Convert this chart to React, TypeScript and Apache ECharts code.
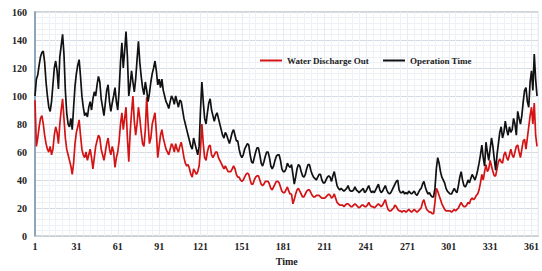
import React, { useEffect, useRef } from "react";
import * as echarts from "echarts";

const xTicks = [1, 31, 61, 91, 121, 151, 181, 211, 241, 271, 301, 331, 361];

const operationTime: number[] = [
  100, 112, 115, 122, 128, 131, 132, 124, 110, 100,
  92, 89, 96, 108, 120, 125, 118, 105, 128, 136,
  144, 130, 104, 88, 80, 78, 84, 76, 92, 107,
  116, 122, 126, 114, 100, 92, 86, 88, 85, 92,
  96, 90, 98, 103, 100, 108, 114, 110, 98, 92,
  86, 95, 104, 108, 96, 89, 95, 100, 106, 96,
  90, 104, 124, 138, 120, 132, 146, 128, 100, 108,
  118, 110, 103, 112, 126, 139, 124, 114, 106, 101,
  110, 104, 96, 102, 110, 116, 120, 125, 118, 108,
  112, 106, 112, 104, 100, 96, 94, 91, 96, 100,
  98, 94, 100, 96, 92, 97, 96, 90, 84, 80,
  76, 72, 68, 64, 62, 70, 66, 62, 58, 64,
  90, 110, 96, 84, 80, 88, 95, 98, 90, 86,
  82, 86, 88, 84, 80, 76, 72, 70, 74, 72,
  69, 66, 70, 74, 76, 72, 68, 68, 62, 58,
  56, 58, 62, 64, 66, 65, 58, 53, 52, 56,
  60, 63, 63, 58, 52, 50, 53, 57, 60, 60,
  56, 50, 48, 50, 54, 57, 58, 58, 54, 48,
  46, 46, 48, 52, 50, 49, 51, 44, 37, 42,
  48, 51, 50, 46, 43, 42, 44, 48, 51, 51,
  47, 44, 42, 41, 40, 42, 44, 44, 40, 38,
  38, 40, 42, 43, 42, 39, 43, 46, 41, 36,
  34, 33, 34, 33, 32, 33, 34, 36, 33, 32,
  32, 33, 35, 33, 32, 31, 32, 33, 34, 31,
  32, 34, 36, 33, 31, 32, 31, 33, 35, 37,
  33, 31, 32, 34, 36, 33, 31, 30, 31, 33,
  35, 37, 39, 40, 33, 31, 31, 32, 30, 31,
  30, 32, 31, 30, 31, 32, 30, 29, 31, 33,
  34, 37, 39, 35, 32, 30, 31, 29, 28, 28,
  34, 48, 56, 52, 46, 42, 40, 38, 34, 32,
  31, 30, 30, 32, 34, 32, 31, 36, 42, 46,
  40, 36, 35, 37, 40, 38, 41, 44, 42, 40,
  43, 47, 52, 58, 65, 56, 50, 67, 60, 54,
  62, 70, 64, 55, 47, 58, 66, 74, 78, 70,
  74, 82, 76, 72, 78, 74, 76, 84, 80, 72,
  89, 84, 80, 86, 96, 104, 106, 96, 92, 110,
  118, 104, 130, 112, 100,
];

const waterDischargeOut: number[] = [
  97, 64, 70, 78, 84, 86, 80, 72, 66, 62,
  60, 64, 58, 62, 72, 78, 74, 66, 80, 90,
  98, 84, 70, 62, 58, 54, 50, 44, 52, 66,
  74, 78, 83, 72, 62, 58, 56, 60, 54, 58,
  62, 56, 48, 56, 64, 68, 72, 70, 62, 58,
  54, 60, 66, 70, 62, 58, 64, 60, 49, 56,
  60, 68, 80, 88, 76, 84, 92, 70, 53, 74,
  88, 100, 82, 72, 80, 92, 84, 74, 66, 64,
  76, 99, 80, 66, 70, 80, 84, 88, 74, 56,
  64, 72, 76, 70, 66, 62, 60, 58, 62, 66,
  64, 60, 66, 62, 60, 64, 67, 62, 56, 52,
  50, 51, 48, 44, 42, 48, 46, 44, 46, 50,
  62, 80, 66, 56, 54, 60, 64, 65, 58, 56,
  58, 60, 60, 56, 54, 52, 50, 48, 50, 48,
  46, 46, 46, 48, 50, 48, 44, 42, 42, 40,
  39, 40, 42, 44, 45, 44, 40, 37, 37, 40,
  42, 43, 43, 40, 37, 36, 37, 39, 39, 39,
  37, 34, 33, 35, 37, 39, 39, 38, 35, 32,
  31, 31, 33, 35, 32, 30, 30, 23, 26, 30,
  33, 34, 32, 30, 28, 28, 30, 32, 33, 33,
  31, 29, 28, 28, 29, 29, 29, 28, 27, 27,
  27, 28, 29, 30, 29, 27, 28, 30, 27, 24,
  23, 22, 22, 22, 21, 22, 23, 23, 22, 21,
  21, 22, 23, 22, 21, 20, 21, 22, 22, 21,
  21, 22, 24, 22, 21, 21, 20, 21, 22, 23,
  22, 21, 22, 24, 26, 22, 19, 18, 18, 19,
  20, 22, 21, 19, 18, 18, 17, 18, 18, 17,
  18, 19, 18, 17, 18, 19, 18, 17, 18, 19,
  20, 24, 26, 22, 19, 18, 17, 17, 16, 16,
  24, 34, 32, 29, 26, 23, 21, 19, 18, 18,
  18, 18, 17, 18, 19, 18, 19, 20, 22, 24,
  22, 21, 21, 22, 24, 23, 26, 27, 26, 27,
  29, 30, 33, 38, 44, 40, 46, 51, 46, 48,
  54, 50, 46, 43, 43, 48, 53, 55, 53, 52,
  58, 60, 56, 54, 58, 62, 58, 56, 60, 64,
  65, 60, 56, 62, 68, 69, 62, 70, 78, 86,
  92, 80, 95, 72, 64,
];

const FONT = "'Liberation Serif', 'Times New Roman', serif";

export default function App() {
  const ref = useRef<HTMLDivElement>(null);
  useEffect(() => {
    if (!ref.current) return;
    const chart = echarts.init(ref.current, undefined, { renderer: "svg" });
    const toPairs = (arr: number[]) => arr.map((v, i) => [i + 1, v]);
    chart.setOption({
      animation: false,
      backgroundColor: "#ffffff",
      grid: {
        left: 35,
        right: 3,
        top: 12,
        bottom: 31,
        show: true,
        borderColor: "#a8a8a8",
        borderWidth: 1,
      },
      legend: {
        left: 255,
        top: 51,
        icon: "rect",
        itemWidth: 22,
        itemHeight: 2,
        itemGap: 14,
        textStyle: { fontFamily: FONT, fontWeight: "bold", fontSize: 9, color: "#222" },
        data: ["Water Discharge Out", "Operation Time"],
      },
      xAxis: {
        type: "value",
        min: 1,
        max: 366,
        interval: 30,
        name: "Time",
        nameLocation: "middle",
        nameGap: 20,
        nameTextStyle: { fontFamily: FONT, fontWeight: "bold", fontSize: 10, color: "#222" },
        axisLine: { show: true, lineStyle: { color: "#c8d0d8", width: 1 } },
        axisTick: { show: false },
        axisLabel: {
          fontFamily: FONT,
          fontWeight: "bold",
          fontSize: 10,
          color: "#222",
          margin: 5,
          showMaxLabel: false,
          formatter: (v: number) => (xTicks.includes(v) ? String(v) : ""),
        },
        splitLine: { show: true, lineStyle: { color: "#e6ecf3", width: 1 } },
        minorTick: { show: false, splitNumber: 6 },
        minorSplitLine: { show: true, lineStyle: { color: "#eef2f7", width: 1 } },
      },
      yAxis: {
        type: "value",
        min: 0,
        max: 160,
        interval: 20,
        axisLine: { show: true, lineStyle: { color: "#8ea6bc", width: 2 } },
        axisTick: { show: false },
        axisLabel: {
          fontFamily: FONT,
          fontWeight: "bold",
          fontSize: 10,
          color: "#222",
          margin: 8,
        },
        splitLine: { show: true, lineStyle: { color: "#d4dbe3", width: 1 } },
        minorTick: { show: false, splitNumber: 5 },
        minorSplitLine: { show: true, lineStyle: { color: "#edf1f6", width: 1 } },
      },
      series: [
        {
          name: "Water Discharge Out",
          type: "line",
          showSymbol: false,
          data: toPairs(waterDischargeOut),
          itemStyle: { color: "#d41414" },
          lineStyle: { color: "#d41414", width: 1.7 },
        },
        {
          name: "Operation Time",
          type: "line",
          showSymbol: false,
          data: toPairs(operationTime),
          itemStyle: { color: "#111111" },
          lineStyle: { color: "#111111", width: 1.7 },
        },
      ],
    });
    return () => chart.dispose();
  }, []);
  return (
    <div
      ref={ref}
      style={{ position: "fixed", left: 0, top: 0, width: 542, height: 271 }}
    />
  );
}
